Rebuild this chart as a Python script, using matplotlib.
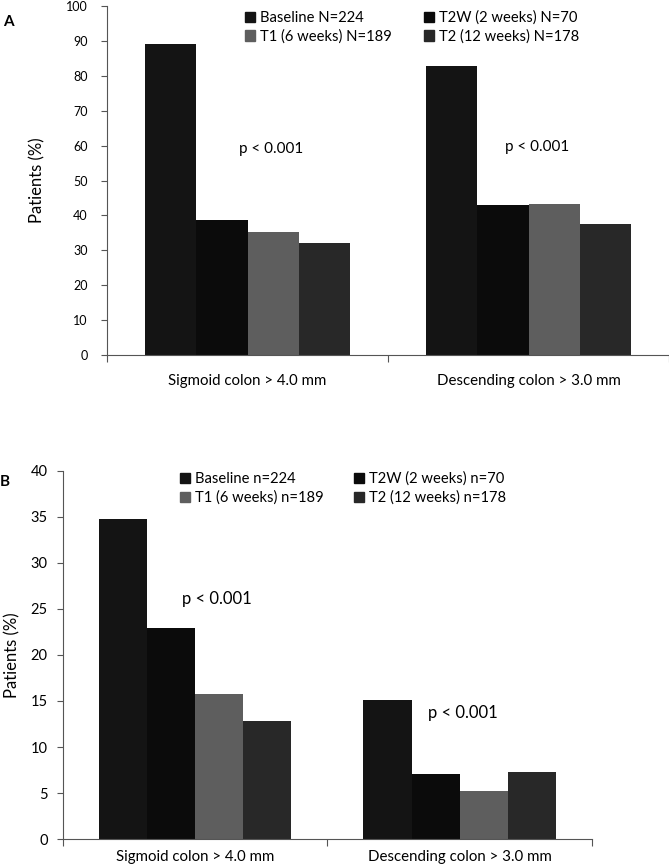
import matplotlib.pyplot as plt
from matplotlib.patches import Patch
import numpy as np

plt.rcParams['font.family'] = ['Lato', 'DejaVu Sans']

# data
categories = ['Sigmoid colon > 4.0 mm', 'Descending colon > 3.0 mm']
series = ['Baseline', 'T2W (2 weeks)', 'T1 (6 weeks)', 'T2 (12 weeks)']
colors = ['#141414', '#0b0b0b', '#5e5e5e', '#282828']

a_values = [[89.2, 82.9], [38.6, 42.9], [35.3, 43.3], [32.0, 37.6]]
b_values = [[34.8, 15.1], [22.9, 7.1], [15.8, 5.2], [12.8, 7.3]]

a_labels = ['Baseline N=224', 'T2W (2 weeks) N=70', 'T1 (6 weeks) N=189', 'T2 (12 weeks) N=178']
b_labels = ['Baseline n=224', 'T2W (2 weeks) n=70', 'T1 (6 weeks) n=189', 'T2 (12 weeks) n=178']

fig = plt.figure(figsize=(6.69, 8.68), dpi=100)
ax_a = fig.add_axes([0.160, 0.591, 0.840, 0.402])
ax_b = fig.add_axes([0.094, 0.0334, 0.791, 0.424])


def draw_panel(ax, values, labels, ymax, ystep, ptext_pos, leg_anchor,
               tick_fs, ypad, xpad, p_fs, colspace):
    x = np.arange(len(categories))
    w = 0.182
    handles = []
    for i, vals in enumerate(values):
        ax.bar(x + (i - 1.5) * w, vals, width=w, color=colors[i], edgecolor='none')
        handles.append(Patch(color=colors[i], label=labels[i]))
    ax.set_xlim(-0.5, len(categories) - 0.5)
    ax.set_ylim(0, ymax)
    ax.set_yticks(np.arange(0, ymax + 0.1, ystep))
    ax.set_xticks(x)
    ax.set_xticklabels(categories, fontsize=10.8)
    ax.set_xticks([-0.5, 0.5, 1.5], minor=True)
    ax.tick_params(axis='x', which='major', length=0, pad=xpad)
    ax.tick_params(axis='x', which='minor', length=5, width=0.8, color='#555555')
    ax.tick_params(axis='y', length=4, width=0.8, color='#555555',
                   labelsize=tick_fs, pad=ypad)
    for s in ['top', 'right']:
        ax.spines[s].set_visible(False)
    for s in ['left', 'bottom']:
        ax.spines[s].set_color('#555555')
        ax.spines[s].set_linewidth(0.8)
    ax.set_ylabel('Patients (%)', fontsize=12)
    for px, py in ptext_pos:
        ax.text(px, py, 'p < 0.001', fontsize=p_fs, ha='center', va='center')
    order = [0, 2, 1, 3]
    ax.legend([handles[k] for k in order], [labels[k] for k in order], ncol=2,
              loc='upper left', bbox_to_anchor=leg_anchor, frameon=False,
              fontsize=10.6, handlelength=0.7, handleheight=0.7, handletextpad=0.3,
              labelspacing=0.3, columnspacing=colspace, borderaxespad=0)


draw_panel(ax_a, a_values, a_labels, 100, 10, [(0.084, 59), (1.03, 59.5)], (0.235, 1.004),
           9, 10, 14, 11, 2.2)
draw_panel(ax_b, b_values, b_labels, 40, 5, [(0.082, 26.1), (1.012, 13.7)], (0.21, 1.014),
           10.5, 7, 8, 12, 2.1)

ax_a.yaxis.set_label_coords(-0.11, 0.5)
ax_b.yaxis.set_label_coords(-0.08, 0.5)

fig.text(0.005, 0.975, 'A', fontsize=11, fontweight='bold', va='center')
fig.text(0.0, 0.445, 'B', fontsize=11, fontweight='bold', va='center')

fig.savefig('out.png', dpi=100)
